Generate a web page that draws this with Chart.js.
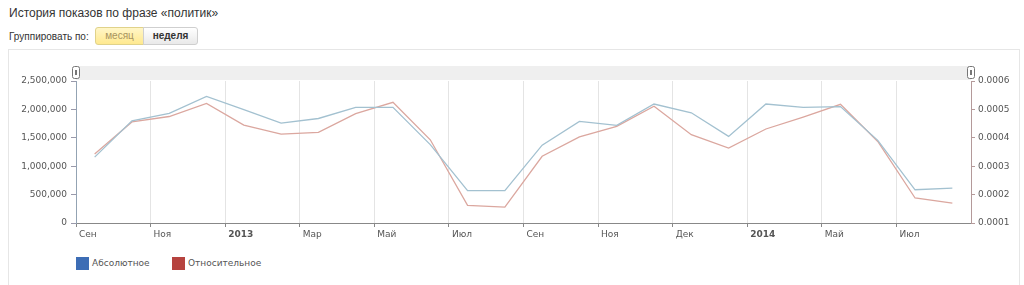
<!DOCTYPE html>
<html>
<head>
<meta charset="utf-8">
<script src="https://cdn.jsdelivr.net/npm/chart.js@4"></script>
<style>
  body { margin: 0; background: #fff; width: 1024px; height: 285px; overflow: hidden; position: relative; font-family: "Liberation Sans", Arial, sans-serif; }
  .title { position: absolute; left: 9px; top: 6px; font-size: 12px; color: #333; }
  .group { position: absolute; left: 9px; top: 31px; font-size: 10px; color: #333; }
  .btn { position: absolute; top: 27px; height: 18px; line-height: 16px; font-size: 10px; text-align: center; box-sizing: border-box; }
  .btn.on { left: 95px; width: 49px; background: linear-gradient(#fff6c8, #ffe98f); border: 1px solid #e0d28a; color: #a89460; border-radius: 3px 0 0 3px; }
  .btn.off { left: 143px; width: 55px; background: linear-gradient(#ffffff, #e9e9e9); border: 1px solid #cfcfcf; color: #333; border-radius: 0 3px 3px 0; font-weight: bold; }
  .panel { position: absolute; left: 8px; top: 49px; width: 1012px; height: 250px; border: 1px solid #e6e6e6; box-sizing: border-box; }
  #wrap { position: absolute; left: 8px; top: 50px; width: 1012px; height: 200px; }
  .legend { position: absolute; top: 257px; font-family: "DejaVu Sans", sans-serif; font-size: 9px; color: #555; line-height: 13px; }
  .legend span.box { display: inline-block; width: 13px; height: 13px; vertical-align: top; margin-right: 3px; }
</style>
</head>
<body>
<div class="title">История показов по фразе «политик»</div>
<div class="group">Группировать по:</div>
<div class="btn on">месяц</div>
<div class="btn off">неделя</div>
<div class="panel"></div>
<div id="wrap"><canvas id="chart"></canvas></div>
<div class="legend" style="left:76px"><span class="box" style="background:#3d6db5"></span>Абсолютное</div>
<div class="legend" style="left:172px"><span class="box" style="background:#b6433f"></span>Относительное</div>
<script>
// Months from Sep 2012 to Aug 2014
const months = ['2012-09', '2012-10', '2012-11', '2012-12', '2013-01', '2013-02', '2013-03', '2013-04',
  '2013-05', '2013-06', '2013-07', '2013-08', '2013-09', '2013-10', '2013-11', '2013-12',
  '2014-01', '2014-02', '2014-03', '2014-04', '2014-05', '2014-06', '2014-07', '2014-08'];

// Absolute shows (left axis)
const absValues = [1160000, 1800000, 1930000, 2230000, 1995000, 1760000, 1840000, 2035000,
  2035000, 1380000, 570000, 570000, 1370000, 1790000, 1720000, 2095000,
  1940000, 1525000, 2095000, 2035000, 2050000, 1455000, 585000, 615000];

// Relative shows (right axis)
const relValues = [0.000343, 0.000456, 0.000475, 0.000521, 0.000445, 0.000413, 0.000419, 0.000485,
  0.000525, 0.000393, 0.000162, 0.000156, 0.000335, 0.000403, 0.000440, 0.000511,
  0.000411, 0.000364, 0.000431, 0.000473, 0.000518, 0.000387, 0.000188, 0.000170];

// x axis ticks (every two months, between points) and their labels
const xTickPos = [-0.5, 1.5, 3.5, 5.5, 7.5, 9.5, 11.5, 13.5, 15.5, 17.5, 19.5, 21.5];
const xTickLabels = ['Сен', 'Ноя', '2013', 'Мар', 'Май', 'Июл', 'Сен', 'Ноя', 'Дек', '2014', 'Май', 'Июл'];

const leftTicks = [0, 500000, 1000000, 1500000, 2000000, 2500000];
const rightTicks = [0.0001, 0.0002, 0.0003, 0.0004, 0.0005, 0.0006];

const tickFont = { family: 'DejaVu Sans', size: 9 };

// gray strip and handles above the plot
const topBand = {
  id: 'topBand',
  beforeDraw(chart) {
    const { ctx, chartArea: a } = chart;
    ctx.save();
    ctx.fillStyle = '#efefef';
    ctx.fillRect(a.left, a.top - 15, a.right - a.left, 14);
    [a.left, a.right].forEach(x => {
      ctx.fillStyle = '#fff';
      ctx.strokeStyle = '#777';
      ctx.lineWidth = 1;
      ctx.beginPath();
      ctx.roundRect(x - 3.5, a.top - 14.5, 7, 12, 2);
      ctx.fill();
      ctx.stroke();
      ctx.fillStyle = '#777';
      ctx.fillRect(x - 1, a.top - 11, 2, 5);
    });
    ctx.restore();
  }
};

new Chart(document.getElementById('chart'), {
  type: 'line',
  data: {
    datasets: [{
      label: 'Абсолютное',
      data: months.map((m, i) => ({ x: i, y: absValues[i] })),
      borderColor: '#a3c1d0',
      borderWidth: 1.3,
      pointRadius: 0,
      yAxisID: 'y',
    }, {
      label: 'Относительное',
      data: months.map((m, i) => ({ x: i, y: relValues[i] })),
      borderColor: '#dba79f',
      borderWidth: 1.3,
      pointRadius: 0,
      yAxisID: 'y1',
    }],
  },
  options: {
    responsive: true,
    maintainAspectRatio: false,
    animation: false,
    layout: { padding: { top: 31, left: 0, right: 0, bottom: 0 } },
    plugins: { legend: { display: false }, tooltip: { enabled: false } },
    scales: {
      x: {
        type: 'linear',
        min: -0.5,
        max: 23.5,
        afterBuildTicks: s => { s.ticks = xTickPos.map(v => ({ value: v })); },
        afterFit: s => { s.height = 27; },
        grid: { color: '#e4e4e4', tickColor: '#888', tickLength: 4 },
        border: { color: '#888' },
        ticks: {
          align: 'start',
          labelOffset: 3,
          padding: 2,
          color: '#555',
          autoSkip: false,
          maxRotation: 0,
          font: c => ({ family: 'DejaVu Sans', size: 9, weight: (c.index === 2 || c.index === 9) ? 'bold' : 'normal' }),
          callback: (v, i) => xTickLabels[i],
        },
      },
      y: {
        position: 'left',
        min: 0,
        max: 2500000,
        afterBuildTicks: s => { s.ticks = leftTicks.map(v => ({ value: v })); },
        afterFit: s => { s.width = 68; },
        grid: { drawOnChartArea: false, tickLength: 5, tickColor: '#99a' },
        border: { color: '#93a3b3' },
        ticks: { color: '#555', font: tickFont, padding: 4, callback: v => v.toLocaleString('en-US') },
      },
      y1: {
        position: 'right',
        min: 0.0001,
        max: 0.0006,
        afterBuildTicks: s => { s.ticks = rightTicks.map(v => ({ value: v })); },
        afterFit: s => { s.width = 49; },
        grid: { drawOnChartArea: false, tickLength: 4, tickColor: '#b49a9a' },
        border: { color: '#b49a9a' },
        ticks: { color: '#555', font: tickFont, padding: 3, callback: v => v.toFixed(4) },
      },
    },
  },
  plugins: [topBand],
});
</script>
</body>
</html>
